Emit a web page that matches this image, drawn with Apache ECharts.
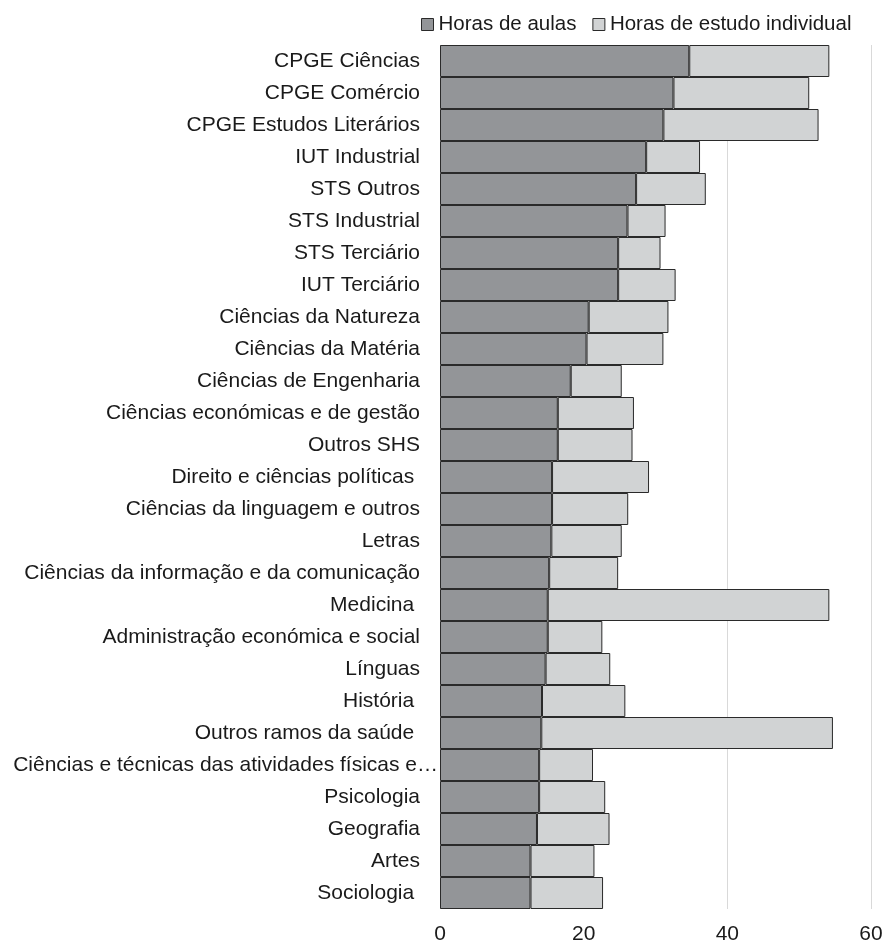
<!DOCTYPE html>
<html>
<head>
<meta charset="utf-8">
<script src="https://cdn.jsdelivr.net/npm/echarts@6/dist/echarts.min.js"></script>
<style>html,body{margin:0;padding:0;background:#fff}#c{width:886px;height:943px}</style>
</head>
<body>
<div id="c"></div>
<script>
const categories = [
  'CPGE Ciências','CPGE Comércio','CPGE Estudos Literários','IUT Industrial','STS Outros',
  'STS Industrial','STS Terciário','IUT Terciário','Ciências da Natureza','Ciências da Matéria',
  'Ciências de Engenharia','Ciências económicas e de gestão','Outros SHS','Direito e ciências políticas ',
  'Ciências da linguagem e outros','Letras','Ciências da informação e da comunicação','Medicina ',
  'Administração económica e social','Línguas','História ','Outros ramos da saúde ',
  'Ciências e técnicas das atividades físicas e…','Psicologia','Geografia','Artes','Sociologia '
];
const horasAulas = [34.7,32.5,31.1,28.7,27.3,26.1,24.8,24.8,20.7,20.4,18.2,16.4,16.4,15.6,15.6,15.5,15.2,15.0,15.0,14.7,14.2,14.1,13.8,13.8,13.5,12.6,12.6];
const horasEstudo = [19.5,18.9,21.6,7.5,9.7,5.3,5.9,8.0,11.1,10.7,7.1,10.6,10.4,13.5,10.6,9.8,9.6,39.2,7.6,9.0,11.6,40.6,7.5,9.2,10.1,8.9,10.1];
const xTicks = [0,20,40,60];

const font = 'Liberation Sans, Arial, sans-serif';
const FS = 21;
const yData = categories.map(c => c.startsWith('Ciências e técnicas')
  ? { value: c, textStyle: { padding: [0, -18, 0, 0] } } : c);

const chart = echarts.init(document.getElementById('c'));
chart.setOption({
  animation: false,
  textStyle: { fontFamily: font },
  legend: {
    left: 421, top: 14, padding: 0, icon: 'rect',
    itemWidth: 12, itemHeight: 12, itemGap: 16,
    itemStyle: { borderColor: '#2a2a2a', borderWidth: 1 },
    textStyle: { fontSize: 20.5, color: '#1a1a1a', fontFamily: font },
    data: ['Horas de aulas', 'Horas de estudo individual']
  },
  grid: { left: 440, right: 15, top: 45, bottom: 34, containLabel: false, outerBoundsMode: 'none' },
  xAxis: {
    type: 'value', min: xTicks[0], max: xTicks[xTicks.length - 1], interval: 20,
    axisLine: { show: false }, axisTick: { show: false },
    splitLine: { show: true, lineStyle: { color: '#d9d9d9', width: 1 } },
    axisLabel: { fontSize: FS, color: '#1a1a1a', margin: 15, fontFamily: font }
  },
  yAxis: {
    type: 'category', inverse: true, data: yData,
    axisLine: { show: false }, axisTick: { show: false },
    axisLabel: { fontSize: FS, color: '#1a1a1a', margin: 20, fontFamily: font, interval: 0 }
  },
  series: [
    {
      name: 'Horas de aulas', type: 'bar', stack: 'h', data: horasAulas,
      barCategoryGap: '0%',
      itemStyle: { color: '#939598', borderColor: '#2a2a2a', borderWidth: 1 }
    },
    {
      name: 'Horas de estudo individual', type: 'bar', stack: 'h', data: horasEstudo,
      barCategoryGap: '0%',
      itemStyle: { color: '#d1d3d4', borderColor: '#2a2a2a', borderWidth: 1 }
    }
  ]
});
</script>
</body>
</html>
